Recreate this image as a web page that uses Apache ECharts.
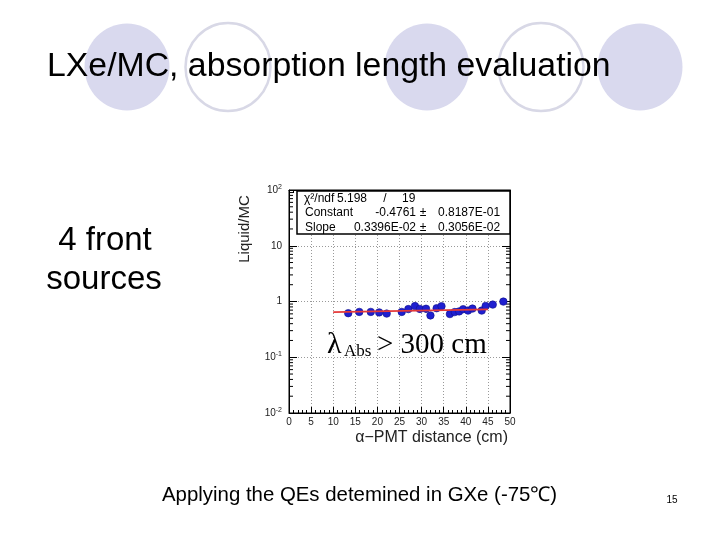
<!DOCTYPE html>
<html><head><meta charset="utf-8">
<script src="https://cdn.jsdelivr.net/npm/echarts@6/dist/echarts.min.js"></script>
<style>html,body{margin:0;padding:0;background:#fff}#c{width:720px;height:540px}</style>
</head><body><div id="c"></div>
<script>
// ---- data ----
const distance = [13.4,15.9,18.5,20.4,22.1,25.5,27.0,28.5,29.6,31.0,32.0,33.4,34.5,36.4,37.5,38.5,39.4,40.5,41.5,43.6,44.5,46.1,48.5];
const ratio    = [0.617,0.651,0.651,0.638,0.607,0.651,0.731,0.827,0.737,0.743,0.563,0.758,0.824,0.595,0.646,0.665,0.728,0.687,0.746,0.687,0.834,0.880,0.996];
const ratioErr = [0.03,0.03,0.04,0.03,0.04,0.04,0.06,0.06,0.10,0.12,0.08,0.06,0.06,0.06,0.05,0.06,0.05,0.06,0.05,0.06,0.07,0.08,0.04];
const fitX = [10, 45];
const fitY = [0.643, 0.724];
const xTickLabels = ['0','5','10','15','20','25','30','35','40','45','50'];
const yTickLabels = {'-2':'10{s|-2}','-1':'10{s|-1}','0':'1','1':'10','2':'10{s|2}'};
const yMinorTicks = [0.02,0.03,0.04,0.05,0.06,0.07,0.08,0.09,0.2,0.3,0.4,0.5,0.6,0.7,0.8,0.9,2,3,4,5,6,7,8,9,20,30,40,50,60,70,80,90];
const statsRows = [
  ['χ²/ndf', '5.198', '/', '19'],
  ['Constant', '-0.4761', '±', '0.8187E-01'],
  ['Slope', '0.3396E-02', '±', '0.3056E-02']
];

const chart = echarts.init(document.getElementById('c'), null, {renderer:'canvas'});
const sans = 'Liberation Sans, Arial, Helvetica, sans-serif';
const serif = 'Liberation Serif, Times New Roman, serif';
const lav = '#d9d9ee';

const graphics = [];
// decorative circles
[[127,67,'f'],[228,67,'o'],[427,67,'f'],[541,67,'o'],[640,67,'f']].forEach(c=>{
  if(c[2]==='f') graphics.push({type:'ellipse', z:-10, shape:{cx:c[0],cy:c[1],rx:42.5,ry:43.5}, style:{fill:lav}});
  else graphics.push({type:'ellipse', z:-10, shape:{cx:c[0],cy:c[1],rx:42.5,ry:44}, style:{fill:'#fff', stroke:'#d8d8e6', lineWidth:2.5}});
});
graphics.push({type:'text', x:47, y:67, z:10, style:{text:'LXe/MC, absorption length evaluation', font:'33.8px '+sans, fill:'#000', verticalAlign:'middle', align:'left'}});
graphics.push({type:'text', x:105, y:241, style:{text:'4 front', font:'33px '+sans, fill:'#000', verticalAlign:'middle', align:'center'}});
graphics.push({type:'text', x:104, y:280, style:{text:'sources', font:'33px '+sans, fill:'#000', verticalAlign:'middle', align:'center'}});
graphics.push({type:'text', x:162, y:495, style:{text:'Applying the QEs detemined in GXe (-75℃)', font:'20.4px '+sans, fill:'#000', verticalAlign:'middle', align:'left'}});
graphics.push({type:'text', x:672, y:500, style:{text:'15', font:'10px '+sans, fill:'#000', verticalAlign:'middle', align:'center'}});
// axis titles
graphics.push({type:'text', x:245, y:229, rotation:Math.PI/2, style:{text:'Liquid/MC', font:'15px '+sans, fill:'#222', verticalAlign:'middle', align:'center'}});
graphics.push({type:'text', x:508, y:438, style:{text:'α−PMT distance (cm)', font:'16px '+sans, fill:'#222', verticalAlign:'middle', align:'right'}});
// lambda annotation
graphics.push({type:'text', x:327, y:345, z:20, style:{text:'λ', font:'30px '+serif, fill:'#000', verticalAlign:'middle', align:'left'}});
graphics.push({type:'text', x:344, y:352, z:20, style:{text:'Abs', font:'17px '+serif, fill:'#000', verticalAlign:'middle', align:'left'}});
graphics.push({type:'text', x:377, y:345, z:20, style:{text:'> 300 cm', font:'29px '+serif, fill:'#000', verticalAlign:'middle', align:'left'}});
// stats box
graphics.push({type:'rect', z:30, shape:{x:297, y:191, width:213, height:43}, style:{fill:'#fff', stroke:'#000', lineWidth:1.5}});
const rowY = [198.5, 213, 227.5];
const f12 = '12px '+sans;
function t(x, y, s, al){ graphics.push({type:'text', z:31, x:x, y:y, style:{text:s, font:f12, fill:'#000', verticalAlign:'middle', align:al||'left'}}); }
t(304, rowY[0], statsRows[0][0]);
t(337, rowY[0], statsRows[0][1]);
t(385, rowY[0], statsRows[0][2], 'center');
t(402, rowY[0], statsRows[0][3]);
for(let r=1;r<3;r++){
  t(305, rowY[r], statsRows[r][0]);
  t(416, rowY[r], statsRows[r][1], 'right');
  t(423, rowY[r], statsRows[r][2], 'center');
  t(438, rowY[r], statsRows[r][3]);
}

const grid = {left:289, right:210, top:190, bottom:127, show:true, borderColor:'#000', borderWidth:1, backgroundColor:'#fff'};
const dotted = {show:true, lineStyle:{color:'#999', type:[1,2], width:1}};

const option = {
  animation:false,
  backgroundColor:'#fff',
  graphic: graphics,
  grid: grid,
  xAxis: [
    {type:'value', min:0, max:50, interval:5, position:'bottom',
     axisLine:{show:true, onZero:false, lineStyle:{color:'#000'}},
     axisTick:{show:true, inside:true, length:6, lineStyle:{color:'#000'}},
     minorTick:{show:true, splitNumber:5, length:3, lineStyle:{color:'#000'}},
     axisLabel:{fontSize:10, color:'#222', fontFamily:sans, margin:4, formatter:(v)=>xTickLabels[Math.round(v/5)]},
     splitLine:dotted},
    {type:'value', min:0, max:50, interval:5, position:'top',
     axisLine:{show:true, onZero:false, lineStyle:{color:'#000'}},
     axisTick:{show:true, inside:true, length:6, lineStyle:{color:'#000'}},
     minorTick:{show:true, splitNumber:5, length:3, lineStyle:{color:'#000'}},
     axisLabel:{show:false}, splitLine:{show:false}}
  ],
  yAxis: [
    {type:'log', logBase:10, min:0.01, max:100, position:'left',
     axisLine:{show:true, onZero:false, lineStyle:{color:'#000'}},
     axisTick:{show:true, inside:true, length:8, lineStyle:{color:'#000'}},
     axisLabel:{fontSize:10, color:'#222', fontFamily:sans, margin:7,
       formatter:(v)=>yTickLabels[String(Math.round(Math.log10(v)))],
       rich:{s:{fontSize:7, verticalAlign:'top', padding:[0,0,6,0], fontFamily:sans, color:'#222'}}},
     splitLine:dotted},
    {type:'log', logBase:10, min:0.01, max:100, position:'right',
     axisLine:{show:true, onZero:false, lineStyle:{color:'#000'}},
     axisTick:{show:true, inside:true, length:8, lineStyle:{color:'#000'}},
     axisLabel:{show:false}, splitLine:{show:false}}
  ],
  series: [
    {type:'custom', name:'minorY', xAxisIndex:0, yAxisIndex:0, silent:true, clip:false, z:5,
     data: yMinorTicks.map(v=>[0, v]),
     encode:{x:0, y:1},
     renderItem:(params, api)=>{
       const v = api.value(1);
       const p0 = api.coord([0, v]);
       const p1 = api.coord([50, v]);
       return {type:'group', children:[
         {type:'line', shape:{x1:p0[0], y1:p0[1], x2:p0[0]+4, y2:p0[1]}, style:{stroke:'#000', lineWidth:1}},
         {type:'line', shape:{x1:p1[0], y1:p1[1], x2:p1[0]-4, y2:p1[1]}, style:{stroke:'#000', lineWidth:1}}
       ]};
     }},
    {type:'custom', name:'errors', xAxisIndex:0, yAxisIndex:0, silent:true, z:6,
     data: distance.map((x,i)=>[x, ratio[i]-ratioErr[i], ratio[i]+ratioErr[i]]),
     encode:{x:0, y:[1,2]},
     renderItem:(params, api)=>{
       const lo = api.coord([api.value(0), api.value(1)]);
       const hi = api.coord([api.value(0), api.value(2)]);
       return {type:'line', shape:{x1:lo[0], y1:lo[1], x2:hi[0], y2:hi[1]}, style:{stroke:'#333', lineWidth:1}};
     }},
    {type:'scatter', name:'Liquid/MC', xAxisIndex:0, yAxisIndex:0, z:7,
     data: distance.map((x,i)=>[x, ratio[i]]),
     symbol:'circle', symbolSize:7.5,
     itemStyle:{color:'#1f1fd0', borderColor:'#10108a', borderWidth:0.6, opacity:1}},
    {type:'line', name:'fit', xAxisIndex:0, yAxisIndex:0, z:8,
     data: fitX.map((x,i)=>[x, fitY[i]]),
     symbol:'none', lineStyle:{color:'#e53a3a', width:1.8}}
  ]
};
chart.setOption(option);
</script></body></html>
